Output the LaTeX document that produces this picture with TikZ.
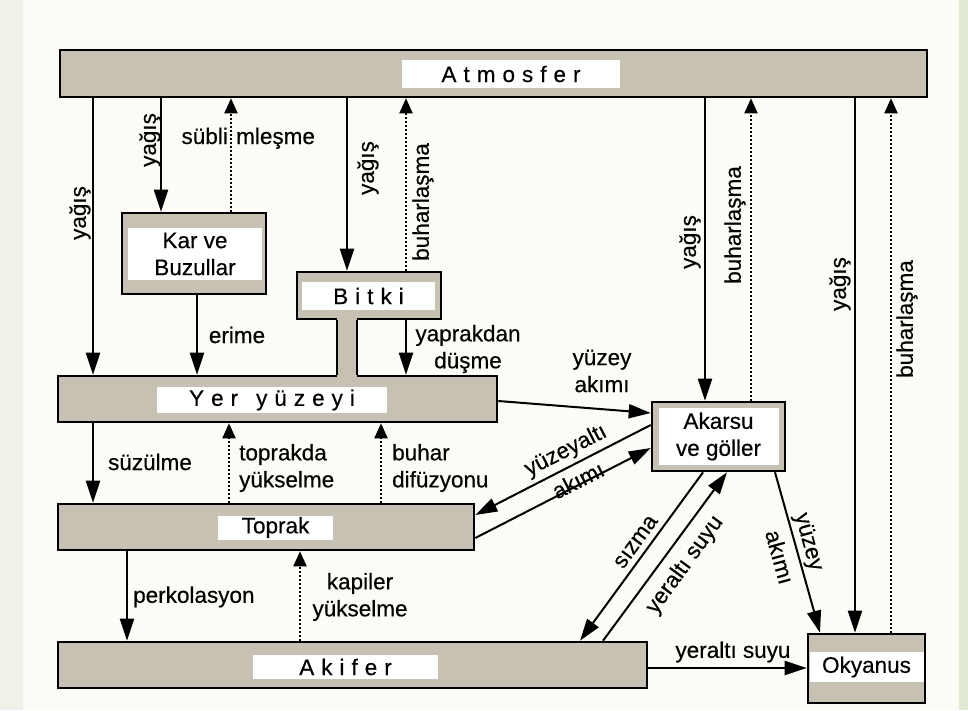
\documentclass[tikz,border=0pt]{standalone}
\usepackage{fontspec}
\setmainfont{Liberation Sans}[FakeBold=0.35]
\usetikzlibrary{arrows.meta}
\definecolor{pagebg}{HTML}{FCFBF6}
\definecolor{margin}{HTML}{F1F1E9}
\definecolor{edge}{HTML}{E2E9D2}
\definecolor{boxfill}{HTML}{C7C1B3}
\newcommand\trk{\hspace{7pt}}
\begin{document}
\begin{tikzpicture}[x=1pt,y=-1pt,
  box/.style={draw=black, line width=2.6pt, fill=boxfill, inner sep=0pt},
  plate/.style={fill=white, inner sep=0pt, font=\fontsize{22.5}{27}\selectfont},
  tag/.style={inner sep=0pt, align=center, font=\fontsize{22.5}{27}\selectfont},
  flow/.style={line width=2pt, -{Triangle[length=22pt,width=14pt]}},
  vapour/.style={line width=2pt, dash pattern=on 2pt off 2pt, -{Triangle[length=15pt,width=13pt]}}
]
% page
\useasboundingbox (0,0) rectangle (968,710);
\fill[edge] (0,0) rectangle (968,710);
\fill[margin] (0,0) rectangle (959,710);
\fill[pagebg] (23,0) rectangle (959,710);

% compartments
\node[box, minimum width=867pt, minimum height=47pt] (atm) at (493.5,73.5) {};
\node[plate, minimum width=218pt, minimum height=28pt] (atmL) at (511,74) {A\trk t\trk m\trk o\trk s\trk f\trk e\trk r};

\node[box, minimum width=144pt, minimum height=81pt] (kar) at (194,253.5) {};
\node[plate, minimum width=134pt, minimum height=52pt, align=center] (karL) at (195,254) {Kar ve\\Buzullar};

\node[box, minimum width=144pt, minimum height=47pt] (bitki) at (369,295.5) {};
\node[plate, minimum width=133pt, minimum height=28pt] (bitkiL) at (368.5,296) {B\trk i\trk t\trk k\trk i};

\node[box, minimum width=439pt, minimum height=46pt] (yer) at (277.5,399) {};
\node[plate, minimum width=230pt, minimum height=26pt] (yerL) at (272,400) {Y\trk e\trk r\hspace{18pt}y\trk ü\trk z\trk e\trk y\trk i};

% stem joining the plant to the ground surface
\node[fill=boxfill, inner sep=0pt, minimum width=20pt, minimum height=61pt] (stem) at (347,347.5) {};
\draw[line width=2.6pt] (337,0 |- bitki.south) -- (337,0 |- yer.north)
                        (357,0 |- bitki.south) -- (357,0 |- yer.north);

\node[box, minimum width=416pt, minimum height=46pt] (toprak) at (266,527) {};
\node[plate, minimum width=115pt, minimum height=24pt] (toprakL) at (275.5,527.5) {Toprak};

\node[box, minimum width=589pt, minimum height=46pt] (akifer) at (352.5,665) {};
\node[plate, minimum width=185pt, minimum height=24pt] (akiferL) at (345.5,667) {A\trk k\trk i\trk f\trk e\trk r};

\node[box, minimum width=133pt, minimum height=69pt] (akarsu) at (718.5,436.5) {};
\node[plate, minimum width=120pt, minimum height=57pt, align=center] (akarsuL) at (718.5,436.5) {Akarsu\\ve göller};

\node[box, minimum width=117pt, minimum height=69pt] (oky) at (866.5,668.5) {};
\node[plate, minimum width=114pt, minimum height=30pt] (okyL) at (866.5,667) {Okyanus};

% atmosphere exchanges
\draw[flow] (93,0 |- atm.south) -- (93,0 |- yer.north);
\node[tag, rotate=90] (l1) at (80,213) {yağış};
\draw[flow] (161,0 |- atm.south) -- (161,0 |- kar.north);
\node[tag, rotate=90] (l2) at (150,140) {yağış};
\draw[vapour] (231,0 |- kar.north) -- (231,0 |- atm.south);
\node[tag, anchor=base east] (l3a) at (228,144) {sübli};
\node[tag, anchor=base west] (l3b) at (236,144) {mleşme};
\draw[flow] (347,0 |- atm.south) -- (347,0 |- bitki.north);
\node[tag, rotate=90] (l4) at (368,168) {yağış};
\draw[vapour] (406,0 |- bitki.north) -- (406,0 |- atm.south);
\node[tag, rotate=90] (l5) at (423,202) {buharlaşma};
\draw[flow] (705,0 |- atm.south) -- (705,0 |- akarsu.north);
\node[tag, rotate=90] (l6) at (690,242) {yağış};
\draw[vapour] (751,0 |- akarsu.north) -- (751,0 |- atm.south);
\node[tag, rotate=90] (l7) at (735,225) {buharlaşma};
\draw[flow] (855,0 |- atm.south) -- (855,0 |- oky.north);
\node[tag, rotate=90] (l8) at (840,284) {yağış};
\draw[vapour] (891,0 |- oky.north) -- (891,0 |- atm.south);
\node[tag, rotate=90] (l9) at (907,319) {buharlaşma};

% down to the ground surface
\draw[flow] (197,0 |- kar.south) -- (197,0 |- yer.north);
\node[tag] (l10) at (237,335) {erime};
\draw[flow] (406,0 |- bitki.south) -- (406,0 |- yer.north);
\node[tag] (l11) at (468,349) {yaprakdan\\düşme};

% surface runoff
\draw[flow] (yer.east |- 0,401) -- (akarsu.west |- 0,413);
\node[tag] (l12) at (602,371) {yüzey\\akımı};
\draw[flow] (akarsu.west |- 0,425) -- (toprak.east |- 0,515);
\draw[flow] (toprak.east |- 0,538) -- (akarsu.west |- 0,448);
\node[tag, rotate=27] (l13) at (566,451) {yüzeyaltı};
\node[tag, rotate=27] (l14) at (578,480) {akımı};

% ground surface and soil
\draw[flow] (93,0 |- yer.south) -- (93,0 |- toprak.north);
\node[tag] (l15) at (150,462) {süzülme};
\draw[vapour] (229,0 |- toprak.north) -- (229,0 |- yer.south);
\node[tag, anchor=west, align=left] (l16) at (239,468) {toprakda\\yükselme};
\draw[vapour] (381,0 |- toprak.north) -- (381,0 |- yer.south);
\node[tag, anchor=west, align=left] (l17) at (392,468) {buhar\\difüzyonu};

% soil and aquifer
\draw[flow] (127,0 |- toprak.south) -- (127,0 |- akifer.north);
\node[tag, anchor=west] (l18) at (133,597) {perkolasyon};
\draw[vapour] (300,0 |- akifer.north) -- (300,0 |- toprak.south);
\node[tag] (l19) at (360,597) {kapiler\\yükselme};

% streams, aquifer and ocean
\draw[flow] (703,0 |- akarsu.south) -- (580,0 |- akifer.north);
\node[tag, rotate=54] (l20) at (636,542) {sızma};
\draw[flow] (603,0 |- akifer.north) -- (727,0 |- akarsu.south);
\node[tag, rotate=54] (l21) at (685,565) {yeraltı suyu};
\draw[flow] (775,0 |- akarsu.south) -- (820,0 |- oky.north);
\node[tag, rotate=-74.6] (l22) at (808,542) {yüzey};
\node[tag, rotate=-74.6] (l23) at (780,557) {akımı};
\draw[flow] (akifer.east |- 0,668) -- (oky.west |- 0,668);
\node[tag] (l24) at (733,652) {yeraltı suyu};
\end{tikzpicture}
\end{document}
